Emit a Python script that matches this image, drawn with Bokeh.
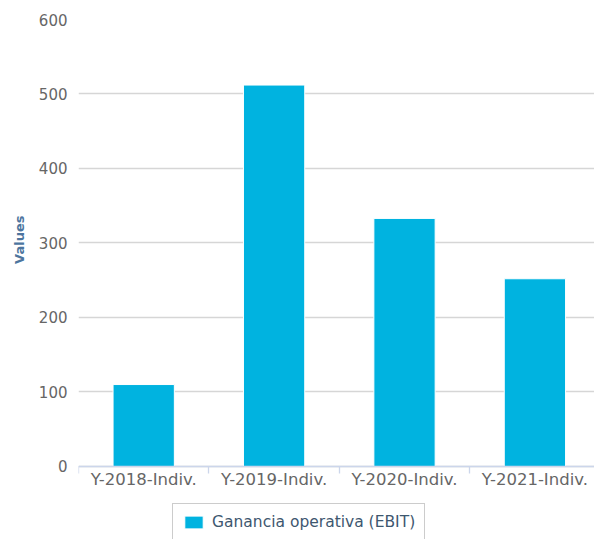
from bokeh.plotting import figure
from bokeh.models import Range1d, FixedTicker, Legend, LegendItem, ColumnDataSource, Title
from bokeh.embed import file_html
from bokeh.resources import INLINE

# Operating profit (EBIT) per fiscal year, individual statements
categories = ["Y-2018-Indiv.", "Y-2019-Indiv.", "Y-2020-Indiv.", "Y-2021-Indiv."]
ebit = [110, 512, 333, 252]
series_name = "Ganancia operativa (EBIT)"
y_ticks = [0, 100, 200, 300, 400, 500, 600]

BAR_COLOR = "#00b3e0"
FONT = "DejaVu Sans"

# one unit-wide slot per category, bars centred in their slot
slots = [i + 0.5 for i in range(len(categories))]
boundaries = list(range(len(categories)))
source = ColumnDataSource(dict(x=slots, top=ebit, cat=categories))

# the frame runs down to the bottom edge so the legend can sit under the axis;
# the category axis itself stays pinned at zero
p = figure(
    width=594, height=539,
    output_backend="svg", toolbar_location=None,
    x_range=Range1d(0, 3.957), y_range=Range1d(-98, 600),
    min_border_left=78, min_border_top=19, min_border_right=0, min_border_bottom=0,
)
p.outline_line_color = None
p.background_fill_color = "white"
p.border_fill_color = "white"

bars = p.vbar(x="x", top="top", bottom=0, width=0.47, source=source,
              fill_color=BAR_COLOR, line_color="white", line_width=1)

# y axis
yax = p.yaxis[0]
yax.ticker = FixedTicker(ticks=y_ticks)
yax.axis_line_color = None
yax.major_tick_line_color = None
yax.major_tick_out = 0
yax.major_tick_in = 0
yax.minor_tick_line_color = None
yax.major_label_text_font = FONT
yax.major_label_text_font_size = "15px"
yax.major_label_text_color = "#666666"
yax.major_label_standoff = 11

# axis title, centred on the 0..600 span rather than the whole frame
p.add_layout(Title(text="Values", align="right", offset=196, standoff=17,
                   text_font=FONT, text_font_size="13px", text_font_style="bold",
                   text_color="#4d759e"), "left")

# x axis: category names centred in slots, separators at slot edges
xax = p.xaxis[0]
xax.fixed_location = 0
xax.ticker = FixedTicker(ticks=slots, minor_ticks=boundaries)
xax.major_label_overrides = {s: c for s, c in zip(slots, categories)}
xax.axis_line_color = "#ccd6eb"
xax.axis_line_width = 1.3
xax.major_tick_line_color = None
xax.major_tick_out = 0
xax.major_tick_in = 0
xax.minor_tick_line_color = "#ccd6eb"
xax.minor_tick_line_width = 1.3
xax.minor_tick_in = 0
xax.minor_tick_out = 7
xax.major_label_text_font = FONT
xax.major_label_text_font_size = "16.5px"
xax.major_label_text_color = "#666666"
xax.major_label_standoff = -3

p.xgrid.grid_line_color = None
p.ygrid.ticker = FixedTicker(ticks=y_ticks)
p.ygrid.grid_line_color = "#d6d6d6"
p.ygrid.grid_line_width = 1.3

legend = Legend(
    items=[LegendItem(label=series_name, renderers=[bars])],
    location=(94, -2),
    orientation="horizontal",
    label_text_font=FONT,
    label_text_font_size="15.5px",
    label_text_color="#3e576f",
    glyph_width=23, glyph_height=16,
    label_standoff=7,
    padding=9, spacing=0, margin=0,
    border_line_color="#999999", border_line_width=1,
    background_fill_color="white", background_fill_alpha=1,
)
p.add_layout(legend, "center")

open("out.html", "w").write(file_html(p, INLINE))
